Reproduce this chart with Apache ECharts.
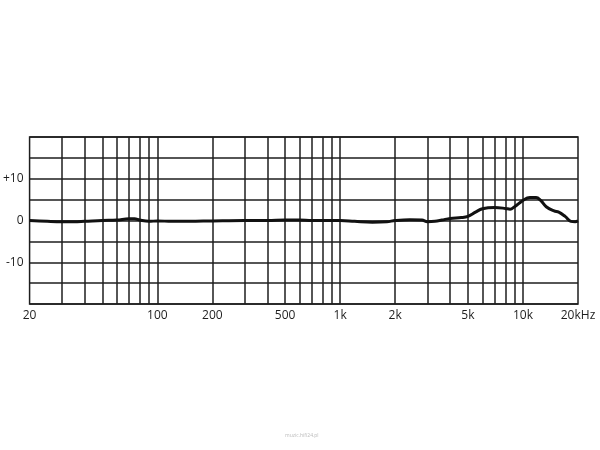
<!DOCTYPE html>
<html>
<head>
<meta charset="utf-8">
<script src="https://cdn.jsdelivr.net/npm/echarts@6/dist/echarts.min.js"></script>
<style>html,body{margin:0;padding:0;background:#fff}#c{width:600px;height:450px}</style>
</head>
<body>
<div id="c"></div>
<script>
// Frequency response (Hz, dB)
const freqs = [20, 25, 30, 35, 40, 50, 60, 70, 75, 80, 90, 100, 120, 150, 200, 300, 400, 500, 600, 700, 800, 1000, 1200, 1500, 1800, 2000, 2400, 2800, 3000, 3300, 3600, 4000, 4600, 5000, 5500, 6000, 7000, 8000, 8500, 9000, 10000, 10900, 11800, 12500, 13400, 14800, 15700, 17000, 18300, 19300, 20000];
const gains = [0, -0.2, -0.3, -0.3, -0.2, 0, 0.1, 0.4, 0.4, 0.1, -0.2, -0.1, -0.2, -0.2, -0.1, 0, 0, 0.1, 0.1, 0, 0, 0, -0.2, -0.4, -0.3, 0, 0.2, 0.1, -0.3, -0.2, 0.1, 0.5, 0.7, 1.0, 2.0, 2.8, 3.1, 2.9, 2.7, 3.3, 4.8, 5.5, 5.5, 4.8, 3.3, 2.3, 2.0, 1.0, -0.2, -0.3, -0.1];

// Vertical grid lines (Hz)
const gridFreqs = [30, 40, 50, 60, 70, 80, 90, 100, 200, 300, 400, 500, 600, 700, 800, 900, 1000, 2000, 3000, 4000, 5000, 6000, 7000, 8000, 9000, 10000];
// X tick labels
const labelFreqs = [20, 100, 200, 500, 1000, 2000, 5000, 10000, 20000];
const labelTexts = ['20', '100', '200', '500', '1k', '2k', '5k', '10k', '20kHz'];
// Y tick labels
const yLabelValues = [10, 0, -10];
const yLabelTexts = ['+10', '0', '-10'];

const ink = '#1e1e1e';
const font = 'Open Sans';

const chart = echarts.init(document.getElementById('c'), null, {renderer: 'canvas'});
chart.setOption({
  animation: false,
  backgroundColor: '#fff',
  grid: {left: 28, right: 22, top: 137, bottom: 146, show: true, borderColor: ink, borderWidth: 1.5, backgroundColor: 'transparent'},
  xAxis: {
    type: 'log', min: 20, max: 20000, logBase: 10,
    axisLine: {show: false}, axisTick: {show: false}, axisLabel: {show: false},
    splitLine: {show: false}, minorSplitLine: {show: false}
  },
  yAxis: {
    type: 'value', min: -20, max: 20, interval: 5,
    axisLine: {show: false}, axisTick: {show: false},
    axisLabel: {
      margin: 6, color: ink, fontFamily: font, fontSize: 12,
      formatter: v => { const i = yLabelValues.indexOf(v); return i >= 0 ? yLabelTexts[i] : ''; }
    },
    splitLine: {show: true, lineStyle: {color: ink, width: 1.5}}
  },
  series: [
    {
      type: 'line', data: [], silent: true,
      markLine: {
        symbol: 'none', silent: true, animation: false,
        lineStyle: {color: ink, width: 1.5, type: 'solid'},
        label: {show: false},
        data: gridFreqs.map(f => ({xAxis: f}))
      }
    },
    {
      type: 'line', data: [], silent: true,
      markLine: {
        symbol: 'none', silent: true, animation: false,
        lineStyle: {color: 'rgba(0,0,0,0)', width: 1, type: 'solid'},
        label: {show: true, position: 'start', distance: 6, color: ink, fontFamily: font, fontSize: 12,
          formatter: p => labelTexts[labelFreqs.indexOf(p.value)]},
        emphasis: {disabled: true},
        data: labelFreqs.map(f => ({xAxis: f}))
      }
    },
    {
      type: 'line', smooth: 0.4, symbol: 'none', silent: true,
      lineStyle: {color: '#111', width: 3},
      data: freqs.map((f, i) => [f, gains[i]]),
      z: 5
    }
  ],
  graphic: [{type: 'text', left: 285, top: 433, style: {text: 'muzic.hifi24.pl', fontSize: 5, fill: '#bbb', fontFamily: font}}]
});
</script>
</body>
</html>
